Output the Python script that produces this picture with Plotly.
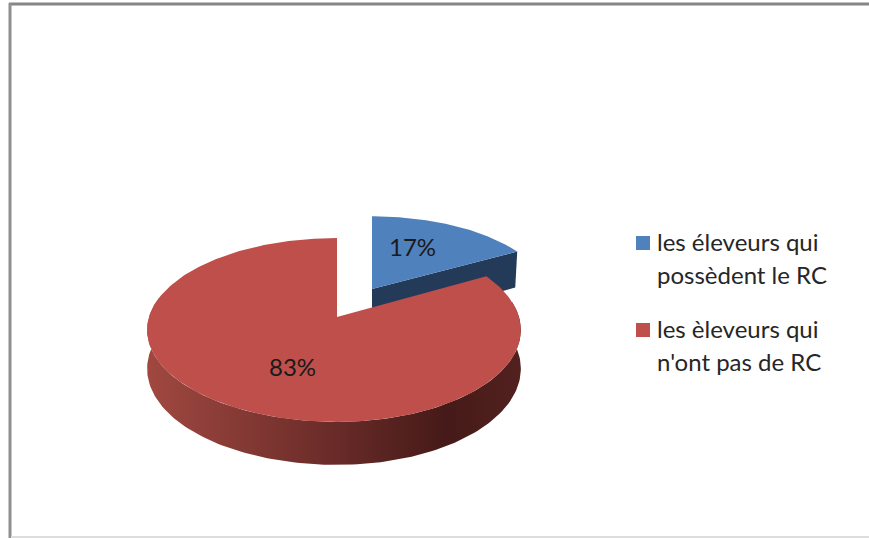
import numpy as np
import plotly.graph_objects as go

category_lines = [["les éleveurs qui", "possèdent le RC"], ["les èleveurs qui", "n'ont pas de RC"]]
shares = [17, 83]
top_colors = ["#4F81BD", "#BE4F4B"]
side_blue = "#243A59"
side_red_stops = ["#A04840", "#6F2E2B", "#451A18", "#52211F"]
label_xy = [(412, 246), (292, 366)]
legend_marker_xy = [(643, 243), (643, 330)]
legend_line_y = [[241, 274], [328, 361]]
legend_text_x = 655

PERSP = 0.141
W, H = 869, 538


def project(theta, apex, a_right, a_left, b):
    X, Y = np.sin(theta), np.cos(theta)
    w = 1 + PERSP * Y
    a = np.where(X >= 0, a_right, a_left)
    return apex[0] + a * X / w, apex[1] - b * Y / w


total = sum(shares)
split = 2 * np.pi * shares[0] / total
blue_apex, blue_a, blue_b = (372, 289), 177, 83
red_apex, red_ar, red_al, red_b = (337, 317), 182, 188, 90.1

fig = go.Figure()

# Side of the pulled-out slice (radial face)
bx, by = project(np.array([split]), blue_apex, blue_a, blue_a, blue_b)
fig.add_trace(go.Scatter(
    x=[blue_apex[0], bx[0], bx[0] - 2, blue_apex[0], blue_apex[0]],
    y=[blue_apex[1], by[0], by[0] + 36, blue_apex[1] + 38, blue_apex[1]],
    fill="toself", fillcolor=side_blue, line=dict(width=0), mode="lines",
    showlegend=False, hoverinfo="skip"))

# Top of the blue slice
t = np.linspace(0, split, 80)
x, y = project(t, blue_apex, blue_a, blue_a, blue_b)
fig.add_trace(go.Scatter(
    x=np.r_[blue_apex[0], x, blue_apex[0]], y=np.r_[blue_apex[1], y, blue_apex[1]],
    fill="toself", fillcolor=top_colors[0], line=dict(width=0), mode="lines",
    showlegend=False, hoverinfo="skip"))

# Side of the red slice
t = np.linspace(np.radians(80), np.radians(283), 160)
x, y = project(t, red_apex, red_ar, red_al, red_b)
depth = 38 + 5 * np.clip(-np.cos(t), 0, 1)
fig.add_trace(go.Scatter(
    x=np.r_[x, x[::-1], x[0]], y=np.r_[y, (y + depth)[::-1], y[0]],
    fill="toself", line=dict(width=0), mode="lines",
    fillgradient=dict(type="horizontal", colorscale=[
        [0, side_red_stops[0]], [0.45, side_red_stops[1]],
        [0.8, side_red_stops[2]], [1, side_red_stops[3]]]),
    showlegend=False, hoverinfo="skip"))

# Top of the red slice
t = np.linspace(split, 2 * np.pi, 300)
x, y = project(t, red_apex, red_ar, red_al, red_b)
fig.add_trace(go.Scatter(
    x=np.r_[red_apex[0], x, red_apex[0]], y=np.r_[red_apex[1], y, red_apex[1]],
    fill="toself", fillcolor=top_colors[1], line=dict(width=0), mode="lines",
    showlegend=False, hoverinfo="skip"))

# Legend swatches
fig.add_trace(go.Scatter(
    x=[p[0] for p in legend_marker_xy], y=[p[1] for p in legend_marker_xy],
    mode="markers", marker=dict(symbol="square", size=14, color=top_colors),
    showlegend=False, hoverinfo="skip"))

# Legend and percent text
annotations = []
for lines, ys in zip(category_lines, legend_line_y):
    for line, yy in zip(lines, ys):
        annotations.append(dict(
            x=legend_text_x, y=yy, text=line, showarrow=False, xanchor="left",
            yanchor="middle", font=dict(family="Lato", size=24, color="#262626")))
for v, (lx, ly) in zip(shares, label_xy):
    annotations.append(dict(
        x=lx, y=ly, text=f"{v}%", showarrow=False,
        font=dict(family="Lato", size=24, color="#1a1a1a")))

fig.update_layout(
    width=W, height=H, margin=dict(l=0, r=0, t=0, b=0),
    paper_bgcolor="white", plot_bgcolor="white",
    xaxis=dict(range=[0, W], visible=False, fixedrange=True),
    yaxis=dict(range=[H, 0], visible=False, fixedrange=True),
    showlegend=False, annotations=annotations,
    shapes=[
        dict(type="line", x0=9, x1=W, y0=4, y1=4, line=dict(color="#858585", width=3)),
        dict(type="line", x0=10, x1=10, y0=3, y1=H, line=dict(color="#909090", width=3)),
        dict(type="line", x0=11, x1=W, y0=537, y1=537, line=dict(color="#DDDDDD", width=2)),
    ],
)

fig.write_html("out.html", config=dict(displayModeBar=False),
               post_script="document.body.style.margin='0';")
